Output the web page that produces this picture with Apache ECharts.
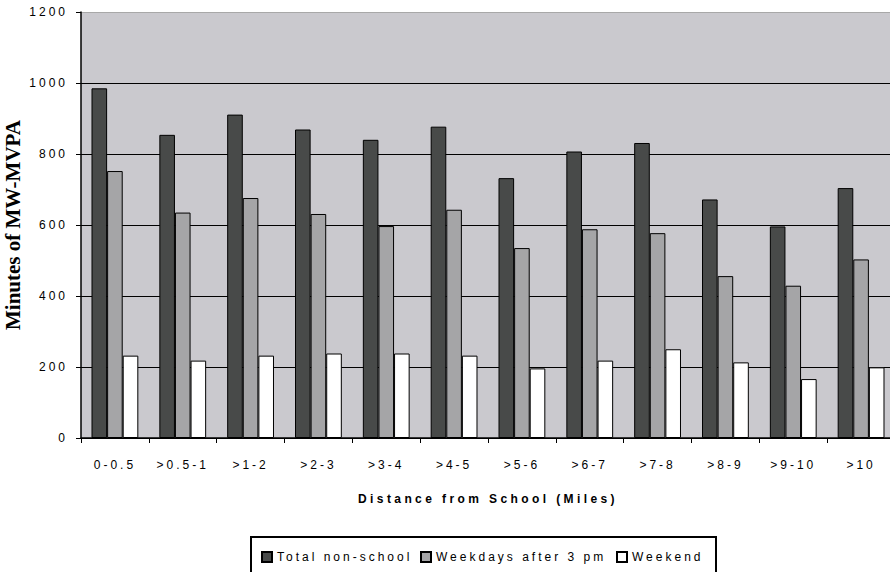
<!DOCTYPE html>
<html>
<head>
<meta charset="utf-8">
<script src="https://cdn.jsdelivr.net/npm/echarts@6/dist/echarts.min.js"></script>
<style>
  html, body { margin: 0; padding: 0; background: #fff; }
  #chart { width: 890px; height: 572px; }
  #chart text { letter-spacing: 3px; }
  #chart text[style*="bold"] { letter-spacing: 3.4px; }
  #chart text[style*="Liberation Serif"] { letter-spacing: 0px; }
</style>
</head>
<body>
<div id="chart"></div>
<script>
const categories = ['0-0.5', '>0.5-1', '>1-2', '>2-3', '>3-4', '>4-5', '>5-6', '>6-7', '>7-8', '>8-9', '>9-10', '>10'];
const seriesNames = ['Total non-school', 'Weekdays after 3 pm', 'Weekend'];
const totalNonSchool = [985, 854, 911, 869, 840, 877, 732, 807, 831, 672, 596, 704];
const weekdaysAfter3 = [752, 635, 676, 631, 597, 643, 535, 588, 577, 456, 429, 503];
const weekend = [232, 218, 232, 238, 238, 232, 196, 218, 250, 213, 166, 199];
const yTicks = [0, 200, 400, 600, 800, 1000, 1200];

const colors = ['#484A49', '#A5A5A7', '#FFFFFF'];
const values = [totalNonSchool, weekdaysAfter3, weekend];
const sansFont = 'Liberation Sans';

const chart = echarts.init(document.getElementById('chart'), null, { renderer: 'svg' });

const legendLefts = [261, 420, 616];

chart.setOption({
  animation: false,
  backgroundColor: '#ffffff',
  grid: {
    left: 81, top: 12, right: -5, bottom: 134,
    containLabel: false,
    outerBoundsMode: 'none',
    show: true, backgroundColor: '#CAC9CE', borderWidth: 0
  },
  xAxis: {
    type: 'category',
    data: categories,
    name: 'Distance from School (Miles)',
    nameLocation: 'middle',
    nameGap: 55,
    nameTextStyle: { fontFamily: sansFont, fontSize: 12, fontWeight: 'bold', color: '#000' },
    axisLine: { lineStyle: { color: '#000', width: 1.5 } },
    axisTick: { show: true, length: 5, inside: false, lineStyle: { color: '#000' } },
    axisLabel: { interval: 0, margin: 21, fontFamily: sansFont, fontSize: 12, color: '#000' },
    splitLine: { show: false }
  },
  yAxis: {
    type: 'value',
    min: yTicks[0],
    max: yTicks[yTicks.length - 1],
    interval: 200,
    name: 'Minutes of MW-MVPA',
    nameLocation: 'middle',
    nameGap: 58,
    nameRotate: 90,
    nameTextStyle: { fontFamily: 'Liberation Serif', fontSize: 21, fontWeight: 'bold', color: '#000' },
    axisLine: { show: true, lineStyle: { color: '#000', width: 1.5 } },
    axisTick: { show: true, length: 5, inside: false, lineStyle: { color: '#000' } },
    axisLabel: { margin: 13, fontFamily: sansFont, fontSize: 12, color: '#000', formatter: v => String(v) },
    splitLine: { show: true, lineStyle: { color: ['#000', '#000', '#000', '#000', '#000', '#000', '#A8A8A8'], width: 1 } }
  },
  legend: seriesNames.map((n, i) => ({
    data: [n],
    left: legendLefts[i],
    top: 551,
    padding: 0,
    itemWidth: 10,
    itemHeight: 10,
    itemGap: 10,
    icon: 'rect',
    selectedMode: false,
    textStyle: { fontFamily: sansFont, fontSize: 12, color: '#000', padding: [0, 0, 0, 0] }
  })),
  graphic: [{
    type: 'rect',
    shape: { x: 251, y: 537, width: 465, height: 60 },
    style: { fill: 'none', stroke: '#000', lineWidth: 2 },
    silent: true
  }],
  series: seriesNames.map((n, i) => ({
    name: n,
    type: 'bar',
    data: values[i],
    barGap: '0%',
    barCategoryGap: '31%',
    itemStyle: { color: colors[i], borderColor: '#000', borderWidth: 1 }
  }))
});
</script>
</body>
</html>
